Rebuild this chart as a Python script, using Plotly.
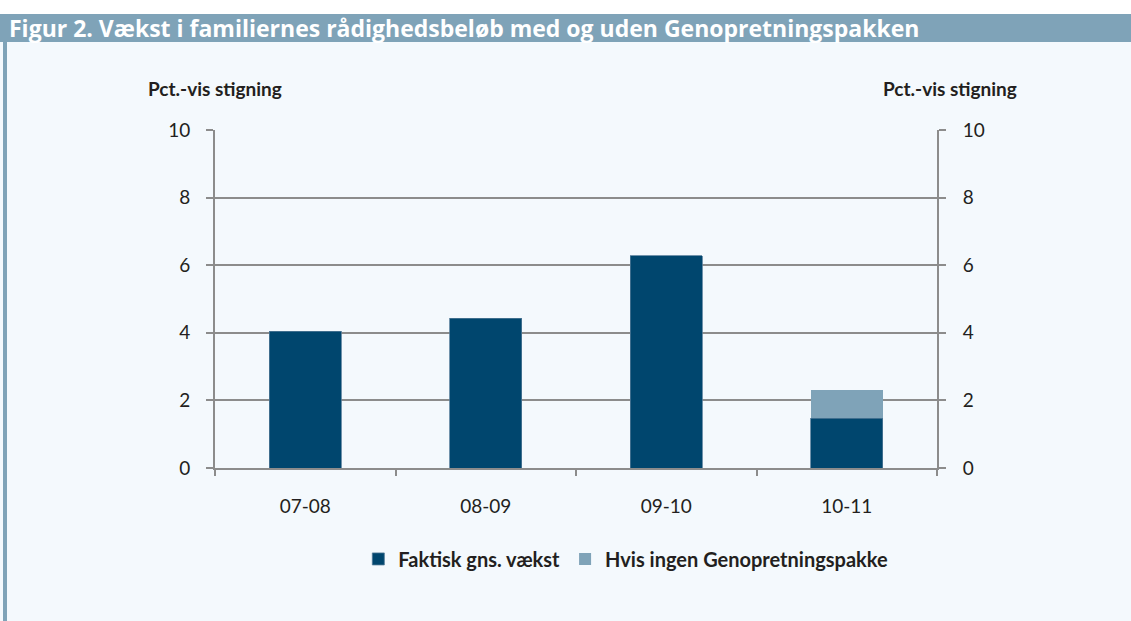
import plotly.graph_objects as go

categories = ["07-08", "08-09", "09-10", "10-11"]
faktisk = [4.05, 4.43, 6.28, 1.47]
hvis_ingen = [None, None, None, 0.84]
y_ticks = [0, 2, 4, 6, 8, 10]

title_text = "Figur 2. Vækst i familiernes rådighedsbeløb med og uden Genopretningspakken"
axis_title = "Pct.-vis stigning"
series_names = ["Faktisk gns. vækst", "Hvis ingen Genopretningspakke"]

DARK = "#00466E"
LIGHT = "#7FA3B8"
BG = "#F4F9FD"
GRID = "#8C8C8C"
TXT = "#231F20"
FONT = "Lato, 'Open Sans', sans-serif"

fig = go.Figure()
fig.add_trace(go.Bar(x=categories, y=faktisk, name=series_names[0],
                     marker=dict(color=DARK, line=dict(color="#4F7896", width=0.8))))
fig.add_trace(go.Bar(x=categories, y=hvis_ingen, name=series_names[1],
                     marker=dict(color=LIGHT, line=dict(color=LIGHT, width=0))))
# invisible trace to activate right axis
fig.add_trace(go.Scatter(x=categories, y=faktisk, yaxis="y2", mode="markers",
                         marker=dict(opacity=0), showlegend=False, hoverinfo="skip"))

fig.update_layout(
    width=1131, height=621,
    barmode="stack", bargap=0.6,
    paper_bgcolor=BG, plot_bgcolor=BG,
    margin=dict(l=215, r=194, t=130, b=153, autoexpand=False),
    font=dict(family=FONT, size=19, color=TXT),
    xaxis=dict(type="category", showline=True, linecolor=GRID, linewidth=2, ticks="outside",
               tickson="boundaries", ticklen=6, tickcolor=GRID, tickwidth=2,
               ticklabelstandoff=20, showgrid=False),
    yaxis=dict(range=[0, 10], tickvals=y_ticks, showline=True, linecolor=GRID, linewidth=2,
               ticks="outside", ticklen=7, tickcolor=GRID, tickwidth=2,
               showgrid=True, gridcolor=GRID, gridwidth=1.5, zeroline=False,
               ticklabelstandoff=12),
    yaxis2=dict(range=[0, 10], tickvals=y_ticks, overlaying="y", side="right",
                showline=True, linecolor=GRID, linewidth=2, ticks="outside", ticklen=7,
                tickcolor=GRID, tickwidth=2, showgrid=False, zeroline=False,
                ticklabelstandoff=13),
    legend=dict(orientation="h", x=0.569, xanchor="center", y=-0.269, yanchor="middle",
                font=dict(family=FONT, size=20, color=TXT, weight="bold"),
                bgcolor="rgba(0,0,0,0)", traceorder="normal", itemwidth=30),
    showlegend=True,
)


def px_x(p):
    return (p - 215) / 722


def px_y(p):
    return (468 - p) / 338


shapes = [
    dict(type="rect", xref="paper", yref="paper", x0=px_x(0), x1=px_x(1131),
         y0=px_y(42), y1=px_y(0), fillcolor="#FFFFFF", line_width=0, layer="below"),
    dict(type="rect", xref="paper", yref="paper", x0=px_x(0), x1=px_x(1131),
         y0=px_y(42), y1=px_y(14), fillcolor=LIGHT, line_width=0, layer="below"),
    dict(type="rect", xref="paper", yref="paper", x0=px_x(3), x1=px_x(7),
         y0=px_y(621), y1=px_y(42), fillcolor=LIGHT, line_width=0, layer="below"),
]
fig.update_layout(shapes=shapes)

fig.add_annotation(text=f"<b>{title_text}</b>", xref="paper", yref="paper",
                   x=px_x(7), y=px_y(28), xanchor="left", yanchor="middle", showarrow=False,
                   font=dict(family="'Open Sans', sans-serif", size=23, color="#FFFFFF"))
fig.add_annotation(text=f"<b>{axis_title}</b>", xref="paper", yref="paper",
                   x=px_x(215), y=px_y(89), xanchor="center", yanchor="middle", showarrow=False,
                   font=dict(family=FONT, size=19, color=TXT))
fig.add_annotation(text=f"<b>{axis_title}</b>", xref="paper", yref="paper",
                   x=px_x(950), y=px_y(89), xanchor="center", yanchor="middle", showarrow=False,
                   font=dict(family=FONT, size=19, color=TXT))

fig.write_html("out.html", config={"displayModeBar": False},
               post_script="document.body.style.margin='0px';")
